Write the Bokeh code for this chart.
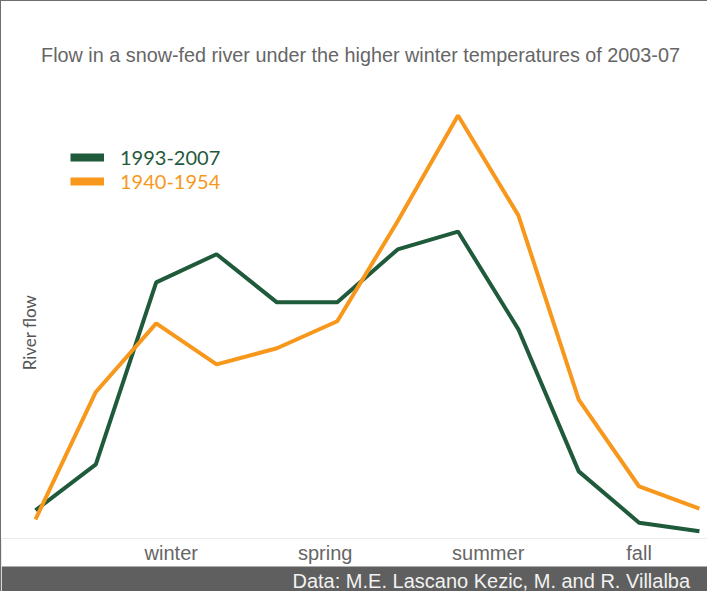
from math import pi
from bokeh.plotting import figure
from bokeh.models import (ColumnDataSource, Range1d, FixedTicker, Label, Title,
                          Legend, LegendItem)
from bokeh.embed import file_html
from bokeh.resources import INLINE

# ---- data ----
month = [0, 1, 2, 3, 4, 5, 6, 7, 8, 9, 10, 11]
flow_1993_2007 = [5.6, 14.1, 47.8, 53.0, 44.1, 44.1, 53.9, 57.2, 39.1, 12.8, 3.3, 1.7]
flow_1940_1954 = [3.9, 27.5, 40.2, 32.6, 35.6, 40.6, 59.1, 78.7, 60.2, 26.1, 10.0, 5.9]
season_ticks = [2.25, 4.8, 7.5, 10.0]
season_labels = ["winter", "spring", "summer", "fall"]
series_names = ["1993-2007", "1940-1954"]

GREEN = "#1f5a3b"
ORANGE = "#f7981d"
GREY_TXT = "#666666"
BAR = "#5e5f5e"

src = ColumnDataSource(dict(month=month, recent=flow_1993_2007, past=flow_1940_1954))

p = figure(width=707, height=591, output_backend="svg", toolbar_location=None,
           x_range=Range1d(-0.563, 11.15), y_range=Range1d(0.37, 99.8),
           y_axis_location=None, min_border_left=0, min_border_right=0,
           min_border_top=0, min_border_bottom=54)
p.styles = {"border-left": "1px solid #6e6e6e", "border-top": "1px solid #6e6e6e"}
p.border_fill_color = BAR
p.background_fill_color = "white"
p.outline_line_color = None
p.xgrid.visible = False
p.ygrid.visible = False

ax = p.xaxis[0]
ax.ticker = FixedTicker(ticks=season_ticks)
ax.major_label_overrides = dict(zip(season_ticks, season_labels))
ax.axis_line_color = None
ax.major_tick_line_color = None
ax.minor_tick_line_color = None
ax.major_tick_out = 0
ax.major_tick_in = 0
ax.major_label_standoff = 3
ax.major_label_text_font = "Liberation Sans"
ax.major_label_text_font_size = "20px"
ax.major_label_text_color = GREY_TXT
ax.background_fill_color = "white"

# legend-only renderers (thicker key lines), hidden from the plot area
lg1 = p.line("month", "recent", source=src, line_width=8, line_color=GREEN, visible=False)
lg2 = p.line("month", "past", source=src, line_width=8, line_color=ORANGE, visible=False)

r1 = p.line("month", "recent", source=src, line_width=4, line_color=GREEN)
r2 = p.line("month", "past", source=src, line_width=4, line_color=ORANGE)


def make_legend(name, rend, color, vy):
    return Legend(items=[LegendItem(label=name, renderers=[rend])],
                  location=(69, vy), orientation="vertical",
                  glyph_width=34, glyph_height=24, label_height=24,
                  label_standoff=16, padding=0, margin=0, spacing=0,
                  border_line_color=None, background_fill_alpha=0,
                  label_text_font="Lato", label_text_font_size="20px",
                  label_text_color=color)


p.add_layout(make_legend(series_names[0], lg1, GREEN, 369))
p.add_layout(make_legend(series_names[1], lg2, ORANGE, 345))

p.add_layout(Label(x=359, y=484, x_units="screen", y_units="screen",
                   text="Flow in a snow-fed river under the higher winter temperatures of 2003-07",
                   text_align="center", text_baseline="middle",
                   text_font="Liberation Sans", text_font_size="19.8px",
                   text_color=GREY_TXT))

p.add_layout(Label(x=28, y=206, x_units="screen", y_units="screen", angle=pi / 2,
                   text="River flow", text_align="center", text_baseline="middle",
                   text_font="Lato", text_font_size="17px", text_color="#555555"))

p.add_layout(Title(text="Data: M.E. Lascano Kezic, M. and R. Villalba",
                   align="left", offset=291, standoff=2,
                   text_font="Liberation Sans", text_font_size="20px",
                   text_font_style="normal", text_color="#f2f2f2"), "below")

open("out.html", "w").write(file_html(p, INLINE))
